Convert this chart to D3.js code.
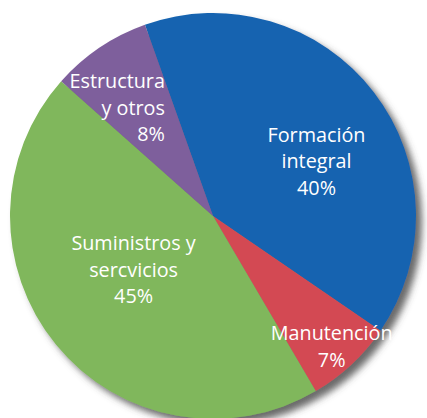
<!DOCTYPE html>
<html>
<head>
<meta charset="utf-8">
<script src="https://cdn.jsdelivr.net/npm/d3@7"></script>
<style>
	html, body { margin: 0; padding: 0; background: #fff; }
	svg { display: block; }
</style>
</head>
<body>
<svg id="chart" width="427" height="418"></svg>
<script>
	'use strict';

	// data, clockwise from the top-left edge of the blue slice
	var categories = ['Formación integral', 'Manutención', 'Suministros y sercvicios', 'Estructura y otros'];
	var values = [40, 7, 45, 8];
	var labelLines = [
		['Formación', 'integral', '40%'],
		['Manutención', '7%'],
		['Suministros y', 'sercvicios', '45%'],
		['Estructura', 'y otros', '8%']
	];
	var colors = ['#1664b0', '#d34a53', '#80b75b', '#7e5e9c'];

	// label layout: radius ratio along the slice middle, nudge, anchor
	var labelRatio = [0.6, 0.85, 0.5, 0.6];
	var labelNudge = [[7, 0], [1, -2], [-1, -30], [20, -27]];
	var labelAnchor = ['middle', 'middle', 'middle', 'end'];

	var svg = d3.select('#chart'),
		cx = 213, cy = 216, radius = 203,
		lineHeight = 26.5;

	var defs = svg.append('defs');
	defs.append('filter')
		.attr('id', 'shadow')
		.attr('x', '-10%').attr('y', '-10%')
		.attr('width', '130%').attr('height', '130%')
		.append('feDropShadow')
		.attr('dx', 6).attr('dy', 6)
		.attr('stdDeviation', 3.5)
		.attr('flood-color', '#444')
		.attr('flood-opacity', 0.8);

	var start = -19.6 * Math.PI / 180;
	var pie = d3.pie()
		.sort(null)
		.startAngle(start)
		.endAngle(start + 2 * Math.PI);

	var arcs = pie(values).map(function(d, i) {
		d.name = categories[i];
		return d;
	});

	var arc = d3.arc().innerRadius(0).outerRadius(radius);

	var g = svg.append('g').attr('transform', 'translate(' + cx + ',' + cy + ')');

	g.append('g')
		.attr('filter', 'url(#shadow)')
		.selectAll('path')
		.data(arcs)
		.join('path')
		.attr('fill', function(d, i) { return colors[i]; })
		.attr('d', arc);

	var labels = g.selectAll('text.label')
		.data(arcs)
		.join('text')
		.attr('class', 'label')
		.attr('fill', '#fff')
		.attr('font-family', '"Open Sans", sans-serif')
		.attr('font-size', 19.8)
		.attr('text-anchor', function(d, i) { return labelAnchor[i]; })
		.attr('transform', function(d, i) {
			var r = radius * labelRatio[i],
				p = d3.arc().innerRadius(r).outerRadius(r).centroid(d);
			return 'translate(' + (p[0] + labelNudge[i][0]) + ',' + (p[1] + labelNudge[i][1]) + ')';
		});

	labels.selectAll('tspan')
		.data(function(d, i) { return labelLines[i]; })
		.join('tspan')
		.attr('x', 0)
		.attr('y', function(d, j) { return j * lineHeight; })
		.text(function(d) { return d; });
</script>
</body>
</html>
